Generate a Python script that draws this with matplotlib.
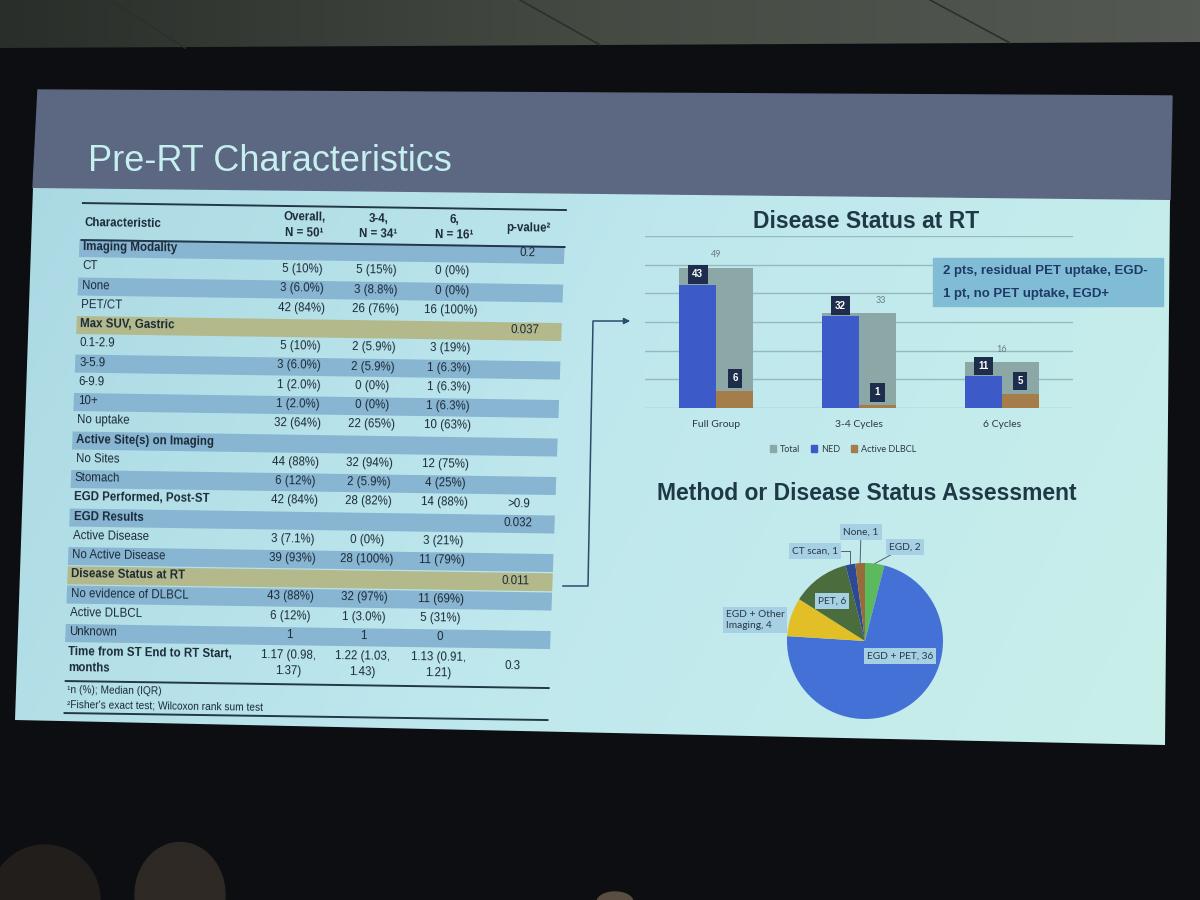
import matplotlib
matplotlib.use('Agg')
import matplotlib.pyplot as plt
import numpy as np
from matplotlib.patches import Polygon, Ellipse, Rectangle, Patch
from matplotlib.colors import LinearSegmentedColormap

plt.rcParams['font.family'] = ['Liberation Sans', 'DejaVu Sans']

# --- table data (left half of the slide)
row_labels = ['Imaging Modality', 'CT', 'None', 'PET/CT', 'Max SUV, Gastric', '0.1-2.9', '3-5.9',
              '6-9.9', '10+', 'No uptake', 'Active Site(s) on Imaging', 'No Sites', 'Stomach',
              'EGD Performed, Post-ST', 'EGD Results', 'Active Disease', 'No Active Disease',
              'Disease Status at RT', 'No evidence of DLBCL', 'Active DLBCL', 'Unknown',
              'Time from ST End to RT Start,\nmonths']
overall = ['', '5 (10%)', '3 (6.0%)', '42 (84%)', '', '5 (10%)', '3 (6.0%)', '1 (2.0%)', '1 (2.0%)',
           '32 (64%)', '', '44 (88%)', '6 (12%)', '42 (84%)', '', '3 (7.1%)', '39 (93%)', '',
           '43 (88%)', '6 (12%)', '1', '1.17 (0.98,\n1.37)']
cyc34 = ['', '5 (15%)', '3 (8.8%)', '26 (76%)', '', '2 (5.9%)', '2 (5.9%)', '0 (0%)', '0 (0%)',
         '22 (65%)', '', '32 (94%)', '2 (5.9%)', '28 (82%)', '', '0 (0%)', '28 (100%)', '',
         '32 (97%)', '1 (3.0%)', '1', '1.22 (1.03,\n1.43)']
cyc6 = ['', '0 (0%)', '0 (0%)', '16 (100%)', '', '3 (19%)', '1 (6.3%)', '1 (6.3%)', '1 (6.3%)',
        '10 (63%)', '', '12 (75%)', '4 (25%)', '14 (88%)', '', '3 (21%)', '11 (79%)', '',
        '11 (69%)', '5 (31%)', '0', '1.13 (0.91,\n1.21)']
pvals = ['0.2', '', '', '', '0.037', '', '', '', '', '', '', '', '', '>0.9', '0.032', '', '',
         '0.011', '', '', '', '0.3']
col_heads = ['Overall,\nN = 50¹', '3-4,\nN = 34¹', '6,\nN = 16¹', 'p-value²']
footnotes = ['¹n (%); Median (IQR)', "²Fisher's exact test; Wilcoxon rank sum test"]

# --- bar chart data
groups = ['Full Group', '3-4 Cycles', '6 Cycles']
total = [49, 33, 16]
ned = [43, 32, 11]
active = [6, 1, 5]
note_lines = ['2 pts, residual PET uptake, EGD-', '1 pt, no PET uptake, EGD+']

# --- pie data
methods = ['EGD', 'EGD + PET', 'EGD + Other\nImaging', 'PET', 'CT scan', 'None']
counts = [2, 36, 4, 6, 1, 1]

fig = plt.figure(figsize=(12, 9), dpi=100)
bg = fig.add_axes([0, 0, 1, 1])
bg.axis('off')

# room around the screen
bg.add_patch(Rectangle((0, 0), 1200, 900, color='#0c0e12', zorder=0))
ceil = np.linspace(0, 1, 200)[None, :]
cm_ceil = LinearSegmentedColormap.from_list('ceil', ['#2a2e2a', '#454a43', '#545953'])
im_c = bg.imshow(ceil, cmap=cm_ceil, extent=(0, 1200, 48, 0), aspect='auto', zorder=0.5)
ceil_poly = Polygon([(0, 0), (1200, 0), (1200, 42), (0, 48)], transform=bg.transData)
im_c.set_clip_path(ceil_poly)
for xs, ys in [([110, 185], [0, 48]), ([520, 600], [0, 45]), ([930, 1010], [0, 43])]:
    bg.plot(xs, ys, color='#2c302c', lw=1.2, zorder=0.6)
bg.add_patch(Ellipse((45, 900), 110, 110, color='#221e1b', zorder=0.7))
bg.add_patch(Ellipse((180, 895), 90, 105, color='#2e2925', zorder=0.7))
bg.add_patch(Ellipse((615, 902), 36, 20, color='#5a4d42', zorder=0.7))

# slide: title band + content area
band_poly = [(38, 90), (1172, 96), (1170, 200), (33, 188)]
content_poly = [(33, 188), (1170, 200), (1165, 745), (15, 720)]
bg.add_patch(Polygon(band_poly, color='#5c6781', zorder=1))
GX, GY = np.meshgrid(np.linspace(0, 1, 300), np.linspace(0, 1, 200))
cm_scr = LinearSegmentedColormap.from_list('scr', ['#abd9e3', '#bfe8ee', '#c9efea'])
im_s = bg.imshow(GX * 0.8 + GY * 0.2, cmap=cm_scr, extent=(15, 1172, 745, 188),
                 aspect='auto', zorder=1)
clip = Polygon(content_poly, transform=bg.transData)
im_s.set_clip_path(clip)
bg.set_xlim(0, 1200)
bg.set_ylim(900, 0)

bg.text(88, 171, 'Pre-RT Characteristics', fontsize=26, color='#c6eff0', va='baseline', zorder=4)


# the photo is slightly skewed: map slide coords to picture coords
def sk(u, v):
    return u - 0.036 * (v - 200), v + 0.0145 * (u - 80)


ROT = -0.83


def stext(u, v, s, **kw):
    x, y = sk(u, v)
    kw.setdefault('va', 'center')
    bg.text(x, y, s, rotation=ROT, rotation_mode='anchor', zorder=4, **kw)


row_v = [247 + 19.25 * i for i in range(len(row_labels) - 1)] + [660]
band_blue = [0, 2, 6, 8, 10, 12, 14, 16, 18, 20]
band_gold = [4, 17]
bold_rows = [0, 4, 10, 13, 14, 17, 21]
for i in band_blue + band_gold:
    v = row_v[i] + 1
    c = '#88b5d1' if i in band_blue else '#b3b98a'
    pts = [sk(81, v - 9), sk(566, v - 9), sk(566, v + 9), sk(81, v + 9)]
    bg.add_patch(Polygon(pts, color=c, lw=0, zorder=2))

for v in [203, 240, 681, 713]:
    (x1, y1), (x2, y2) = sk(83, v), sk(566, v)
    bg.plot([x1, x2], [y1, y2], color='#22374a', lw=1.4, zorder=3)

col_u = [305, 379, 455, 529]
tc = '#1b2a38'
stext(85, 223, 'Characteristic', fontsize=8.3, weight='bold', color=tc, ha='left')
for u, h in zip(col_u, col_heads):
    stext(u, 222, h, fontsize=8.3, weight='bold', color=tc, ha='center', linespacing=1.35)

for i, lab in enumerate(row_labels):
    stext(85, row_v[i], lab, fontsize=8.3, color=tc, ha='left', linespacing=1.35,
          weight='bold' if i in bold_rows else 'normal')
    for u, col in zip(col_u, [overall, cyc34, cyc6, pvals]):
        if col[i]:
            stext(u, row_v[i], col[i], fontsize=8.3, color=tc, ha='center',
                  multialignment='center', linespacing=1.35)

stext(85, 690, footnotes[0], fontsize=7.3, color=tc, ha='left')
stext(85, 704, footnotes[1], fontsize=7.3, color=tc, ha='left')

# connector from the table to the bar chart
arrow_c = '#2d4b6c'
bg.plot([563, 588, 593, 624], [586, 586, 321, 321], color=arrow_c, lw=1.1, zorder=3)
bg.annotate('', xy=(633, 321), xytext=(622, 321), zorder=3,
            arrowprops=dict(arrowstyle='-|>', color=arrow_c, lw=1.1, mutation_scale=9))

title_c = '#1e3846'
bg.text(866, 222, 'Disease Status at RT', fontsize=16.5, weight='bold', color=title_c,
        ha='center', va='center', zorder=4)
bg.text(867, 494, 'Method or Disease Status Assessment', fontsize=16.5, weight='bold',
        color=title_c, ha='center', va='center', zorder=4)

# --- bar chart
axb = fig.add_axes([645 / 1200, 1 - 408 / 900, 428 / 1200, 172 / 900])
axb.patch.set_alpha(0)
x = np.arange(len(groups))
c_tot, c_ned, c_act = '#8ba7a6', '#3c5ac8', '#a47d4a'
axb.bar(x, total, 0.52, color=c_tot, zorder=2)
axb.bar(x - 0.13, ned, 0.26, color=c_ned, zorder=3)
axb.bar(x + 0.13, active, 0.26, color=c_act, zorder=3)
axb.set_xlim(-0.5, 2.5)
axb.set_ylim(0, 60)
axb.set_yticks(range(0, 61, 10))
axb.yaxis.grid(True, color='#97b8bd', lw=1)
axb.set_axisbelow(True)
axb.tick_params(left=False, labelleft=False, bottom=False, pad=5)
axb.set_xticks(x, groups, fontsize=7.5, color='#2f3a40', family='Lato')
for s in axb.spines.values():
    s.set_visible(False)

tot_dx = [0, 16, 0]
box = dict(boxstyle='square,pad=0.45', fc='#1f2d4c', ec='none')
for i in x:
    axb.annotate(str(total[i]), (i, total[i]), xytext=(tot_dx[i], 6), textcoords='offset points',
                 ha='center', va='bottom', fontsize=6.5, color='#6b7e84', family='Lato')
    axb.annotate(str(ned[i]), (i - 0.13, ned[i]), xytext=(0, 4), textcoords='offset points',
                 ha='center', va='bottom', fontsize=7, color='white', weight='bold', bbox=box,
                 zorder=5)
    axb.annotate(str(active[i]), (i + 0.13, active[i]), xytext=(0, 5.5), textcoords='offset points',
                 ha='center', va='bottom', fontsize=7, color='white', weight='bold', bbox=box,
                 zorder=5)

axb.add_patch(Rectangle((933, 258), 230, 48, transform=bg.transData, color='#80bdd5',
                        clip_on=False, zorder=6))
for k, line in enumerate(note_lines):
    axb.text(943, 271 + 23 * k, line, transform=bg.transData, fontsize=9.5, weight='bold',
             color='#1f3a66', va='center', ha='left', zorder=7, clip_on=False)

handles = [Patch(color=c_tot, label='Total'), Patch(color=c_ned, label='NED'),
           Patch(color=c_act, label='Active DLBCL')]
fig.legend(handles=handles, loc='center', bbox_to_anchor=(843 / 1200, 1 - 449 / 900), ncol=3,
           frameon=False, handlelength=0.7, handleheight=0.7, handletextpad=0.4,
           columnspacing=1.2, labelcolor='#2f3a40', prop=dict(family='Lato', size=6.5))

# --- pie
cx, cy, r = 865, 641, 78
axp = fig.add_axes([(cx - r) / 1200, 1 - (cy + r) / 900, 2 * r / 1200, 2 * r / 900])
pie_colors = ['#5cba5e', '#4371d6', '#e2bf26', '#4b6c3c', '#2c4a94', '#9a6b3a']
wedges, _ = axp.pie(counts, colors=pie_colors, startangle=90, counterclock=False, radius=1,
                    wedgeprops=dict(lw=0))
axp.set_xlim(-1, 1)
axp.set_ylim(-1, 1)


def pp(px, py):
    return (px - cx) / r, (cy - py) / r


lab_pos = [(905, 547), (900, 656), (755, 620), (832, 601), (815, 551), (861, 532)]
leader = {0: 'arc3', 4: 'angle,angleA=0,angleB=90', 5: 'arc3'}
lbox = dict(boxstyle='square,pad=0.3', fc='#a6d0e3', ec='none')
for i, (m, c) in enumerate(zip(methods, counts)):
    w = wedges[i]
    mid = np.deg2rad((w.theta1 + w.theta2) / 2)
    kw = {}
    if i in leader:
        kw['arrowprops'] = dict(arrowstyle='-', color='#55606a', lw=0.7,
                                connectionstyle=leader[i], shrinkA=0, shrinkB=0)
    axp.annotate(f'{m}, {c}', xy=(np.cos(mid), np.sin(mid)), xytext=pp(*lab_pos[i]),
                 ha='center', va='center', fontsize=7.3, color='#2a3844', family='Lato',
                 bbox=lbox, annotation_clip=False, multialignment='left', zorder=5, **kw)

fig.savefig('out.png', dpi=100)
